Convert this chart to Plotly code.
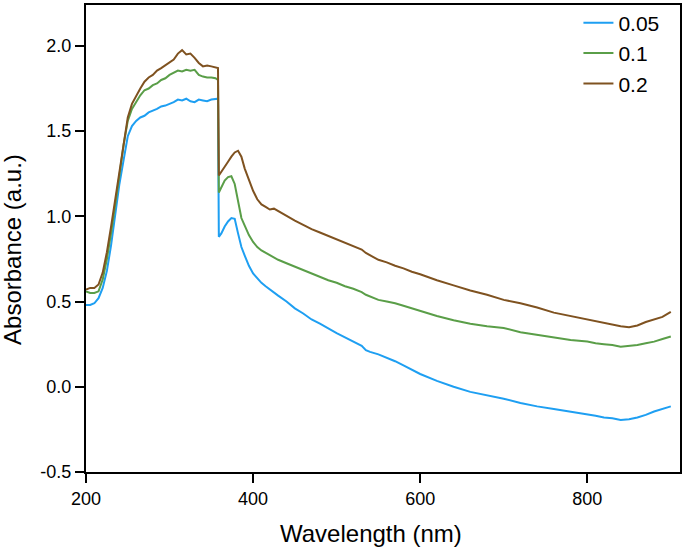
import plotly.graph_objects as go

wavelength = [200,205,210,215,220,225,230,235,240,245,250,255,260,265,270,275,280,285,290,295,
              300,305,310,315,320,325,330,335,340,345,350,355,358,359,362,366,370,374,378,382,
              386,390,395,400,405,410,415,420,425,430,440,450,460,470,480,490,500,510,520,530,
              535,540,550,560,570,580,590,600,620,640,660,680,700,720,740,760,780,800,810,820,
              830,840,850,860,870,880,890,900]

abs_005 = [0.48,0.48,0.49,0.52,0.58,0.68,0.83,1.01,1.19,1.33,1.47,1.53,1.56,1.58,1.59,1.61,1.62,1.63,1.645,1.65,
           1.66,1.67,1.685,1.68,1.69,1.675,1.67,1.685,1.68,1.675,1.685,1.69,1.69,0.88,0.90,0.94,0.97,0.99,0.985,0.90,
           0.82,0.77,0.71,0.665,0.635,0.61,0.59,0.57,0.555,0.535,0.50,0.46,0.43,0.395,0.37,0.34,0.315,0.29,0.265,0.24,
           0.215,0.205,0.19,0.17,0.15,0.125,0.10,0.075,0.035,0.0,-0.03,-0.05,-0.07,-0.095,-0.115,-0.13,-0.145,-0.16,-0.17,-0.18,
           -0.185,-0.195,-0.19,-0.18,-0.165,-0.145,-0.13,-0.115]

abs_01 = [0.56,0.55,0.55,0.56,0.63,0.75,0.90,1.06,1.24,1.42,1.56,1.63,1.67,1.71,1.74,1.75,1.77,1.78,1.80,1.81,
          1.83,1.845,1.855,1.85,1.86,1.855,1.86,1.83,1.82,1.815,1.815,1.81,1.80,1.14,1.17,1.21,1.23,1.235,1.19,1.08,
          0.99,0.945,0.89,0.85,0.82,0.80,0.785,0.77,0.76,0.745,0.725,0.705,0.685,0.665,0.645,0.625,0.61,0.59,0.575,0.555,
          0.54,0.53,0.51,0.50,0.49,0.475,0.46,0.445,0.415,0.39,0.37,0.355,0.345,0.32,0.305,0.29,0.275,0.265,0.255,0.25,
          0.245,0.235,0.24,0.245,0.255,0.265,0.28,0.295]

abs_02 = [0.57,0.58,0.58,0.60,0.67,0.79,0.94,1.10,1.27,1.44,1.58,1.66,1.71,1.75,1.79,1.815,1.83,1.855,1.87,1.885,
          1.90,1.92,1.955,1.975,1.95,1.955,1.93,1.90,1.88,1.885,1.88,1.875,1.87,1.24,1.26,1.29,1.32,1.35,1.375,1.385,
          1.35,1.28,1.21,1.15,1.10,1.07,1.055,1.04,1.045,1.03,1.005,0.975,0.95,0.925,0.905,0.885,0.865,0.845,0.825,0.805,
          0.785,0.77,0.745,0.73,0.71,0.695,0.675,0.66,0.625,0.595,0.565,0.54,0.51,0.49,0.465,0.435,0.415,0.395,0.385,0.375,
          0.365,0.355,0.35,0.36,0.38,0.395,0.41,0.44]

series_names = ["0.05", "0.1", "0.2"]
series_values = [abs_005, abs_01, abs_02]
series_colors = ["#1E9FF2", "#5A9E48", "#7F5220"]

x_ticks = [200, 400, 600, 800]
y_ticks = [-0.5, 0.0, 0.5, 1.0, 1.5, 2.0]
y_tick_text = ["-0.5", "0.0", "0.5", "1.0", "1.5", "2.0"]

fig = go.Figure()
for name, vals, col in zip(series_names, series_values, series_colors):
    fig.add_trace(go.Scatter(x=wavelength, y=vals, mode="lines", name=name,
                             line=dict(color=col, width=2)))

FONT = "Liberation Sans, Arial, sans-serif"
axis_font = dict(family=FONT, size=18, color="black")
fig.update_layout(
    width=685, height=548,
    margin=dict(l=86, r=5, t=3, b=76),
    plot_bgcolor="white", paper_bgcolor="white",
    font=dict(family=FONT, color="black"),
    showlegend=True,
    legend=dict(x=0.829, y=1.005, xanchor="left", yanchor="top",
                font=dict(size=21, family=FONT),
                bgcolor="rgba(255,255,255,0)", borderwidth=0, tracegroupgap=0),
    xaxis=dict(range=[200, 911], tickvals=x_ticks, ticks="outside", ticklen=9, tickwidth=2,
               showline=True, linewidth=2, linecolor="black", mirror=True,
               showgrid=False, zeroline=False, tickfont=axis_font, tickcolor="black"),
    yaxis=dict(range=[-0.5, 2.24], tickvals=y_ticks, ticktext=y_tick_text, ticks="outside",
               ticklen=9, tickwidth=2, showline=True, linewidth=2, linecolor="black", mirror=True,
               showgrid=False, zeroline=False, tickfont=axis_font, tickcolor="black"),
    annotations=[
        dict(text="Wavelength (nm)", xref="paper", yref="paper", x=(371-86)/594, y=-(534-472)/469,
             xanchor="center", yanchor="middle", showarrow=False,
             font=dict(size=24, family=FONT, color="black")),
        dict(text="Absorbance (a.u.)", xref="paper", yref="paper", x=-(86-13)/594, y=(472-249)/469,
             xanchor="center", yanchor="middle", showarrow=False, textangle=-90,
             font=dict(size=24, family=FONT, color="black")),
    ],
)

fig.write_html("out.html", config={"displayModeBar": False},
               post_script="document.body.style.margin='0';document.body.style.padding='0';")
